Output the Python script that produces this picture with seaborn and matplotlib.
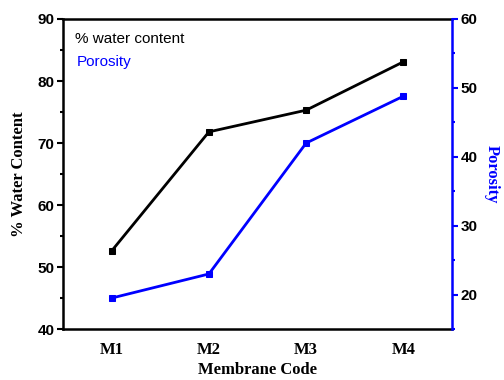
import matplotlib
matplotlib.use('Agg')
import matplotlib.pyplot as plt
from matplotlib.ticker import MultipleLocator, FixedLocator
import seaborn as sns
import pandas as pd

membranes = ['M1', 'M2', 'M3', 'M4']
water_content = [52.6, 71.8, 75.3, 83.1]
porosity = [19.5, 23.0, 42.0, 48.8]

sns.set_style('white')
plt.rcParams['font.family'] = ['Liberation Sans', 'DejaVu Sans']
plt.rcParams['text.color'] = 'black'
plt.rcParams['axes.labelcolor'] = 'black'
plt.rcParams['xtick.color'] = 'black'
plt.rcParams['ytick.color'] = 'black'

df = pd.DataFrame({'pos': [1, 2, 3, 4], 'code': membranes,
                   'water': water_content, 'porosity': porosity})

fig = plt.figure(figsize=(5.04, 3.8), dpi=100)
ax = fig.add_axes([0.125, 0.134, 0.772, 0.816])
ax2 = ax.twinx()

sns.lineplot(data=df, x='pos', y='water', ax=ax, color='black', marker='s',
             markersize=5, markeredgecolor='black', linewidth=2)
sns.lineplot(data=df, x='pos', y='porosity', ax=ax2, color='blue', marker='s',
             markersize=5, markeredgecolor='blue', linewidth=2)

ax.set_xlim(0.5, 4.5)
ax.set_ylim(40, 90)
ax2.set_ylim(15, 60)

ax.xaxis.set_major_locator(FixedLocator([1, 2, 3, 4]))
ax.xaxis.set_minor_locator(FixedLocator([0.5, 1.5, 2.5, 3.5, 4.5]))
ax.set_xticklabels(membranes, fontfamily='Liberation Serif', fontweight='bold', fontsize=12)
ax.yaxis.set_major_locator(MultipleLocator(10))
ax.yaxis.set_minor_locator(MultipleLocator(5))
ax2.yaxis.set_major_locator(MultipleLocator(10))
ax2.yaxis.set_minor_locator(MultipleLocator(5))
ax2.set_yticks([20, 30, 40, 50, 60])

for lab in ax.get_yticklabels() + ax2.get_yticklabels():
    lab.set_fontweight('bold')
    lab.set_fontsize(11)
    lab.set_color('black')

ax.tick_params(axis='both', which='major', direction='out', length=4, width=1.5, pad=2)
ax.tick_params(axis='both', which='minor', direction='out', length=2.5, width=1.5)
ax.tick_params(axis='x', which='major', pad=5)
ax2.tick_params(axis='y', which='major', direction='out', length=4, width=1.5,
                color='blue', labelcolor='black', pad=2)
ax2.tick_params(axis='y', which='minor', direction='out', length=2.5, width=1.5, color='blue')

for sp in ['left', 'bottom', 'top']:
    ax.spines[sp].set_linewidth(1.8)
    ax.spines[sp].set_color('black')
for sp in ['left', 'bottom', 'top']:
    ax2.spines[sp].set_visible(False)
ax.spines['right'].set_visible(False)
ax2.spines['right'].set_color('blue')
ax2.spines['right'].set_linewidth(1.8)

ax.set_xlabel('Membrane Code', fontfamily='Liberation Serif', fontweight='bold', fontsize=12,
              labelpad=3, color='black')
ax.set_ylabel('% Water Content', fontfamily='Liberation Serif', fontweight='bold', fontsize=12,
              labelpad=8, color='black')
ax2.set_ylabel('Porosity', fontfamily='Liberation Serif', fontweight='bold', fontsize=12,
               color='blue', rotation=270, labelpad=16)

ax.text(0.03, 0.935, '% water content', transform=ax.transAxes, fontsize=11, color='black', va='center')
ax.text(0.035, 0.86, 'Porosity', transform=ax.transAxes, fontsize=11, color='blue', va='center')

fig.savefig('out.png', dpi=100)
